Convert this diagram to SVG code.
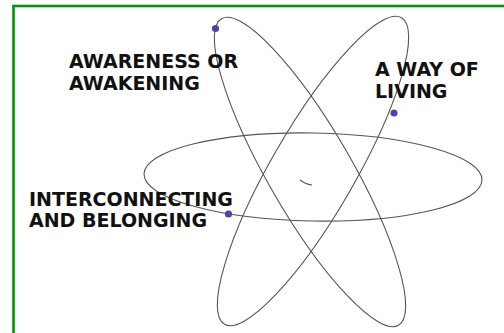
<svg xmlns="http://www.w3.org/2000/svg" width="504" height="333" viewBox="0 0 504 333">
<style>
.orbit{fill:none;stroke:#555;stroke-width:1.1}
.dot{fill:#4a4aa6}
.lbl{font-family:"DejaVu Sans","Verdana",sans-serif;font-weight:bold;font-size:19px;fill:#111}
</style>
<rect x="0" y="0" width="504" height="333" fill="#fff"/>
<rect x="13.5" y="6" width="620" height="420" fill="none" stroke="#0a8f0a" stroke-width="2.6"/>
<g id="connectors">
<ellipse class="orbit" cx="313" cy="177" rx="169" ry="44" transform="rotate(1 313 177)"/>
<ellipse class="orbit" cx="310" cy="172" rx="177" ry="42" transform="rotate(60 310 172)"/>
<ellipse class="orbit" cx="313" cy="171" rx="177" ry="42" transform="rotate(-60 313 171)"/>
<path class="orbit" d="M300,180 Q305,184 312,185"/>
</g>
<g id="awareness">
<circle class="dot" cx="215.5" cy="28.5" r="3.6"/>
<text class="lbl" x="69" y="68">AWARENESS OR</text>
<text class="lbl" x="69" y="90">AWAKENING</text>
</g>
<g id="way-of-living">
<circle class="dot" cx="394" cy="113" r="3.6"/>
<text class="lbl" x="375" y="76">A WAY OF</text>
<text class="lbl" x="375" y="98">LIVING</text>
</g>
<g id="interconnecting">
<circle class="dot" cx="228.5" cy="214" r="3.6"/>
<text class="lbl" x="29" y="206">INTERCONNECTING</text>
<text class="lbl" x="29" y="227">AND BELONGING</text>
</g>
</svg>
